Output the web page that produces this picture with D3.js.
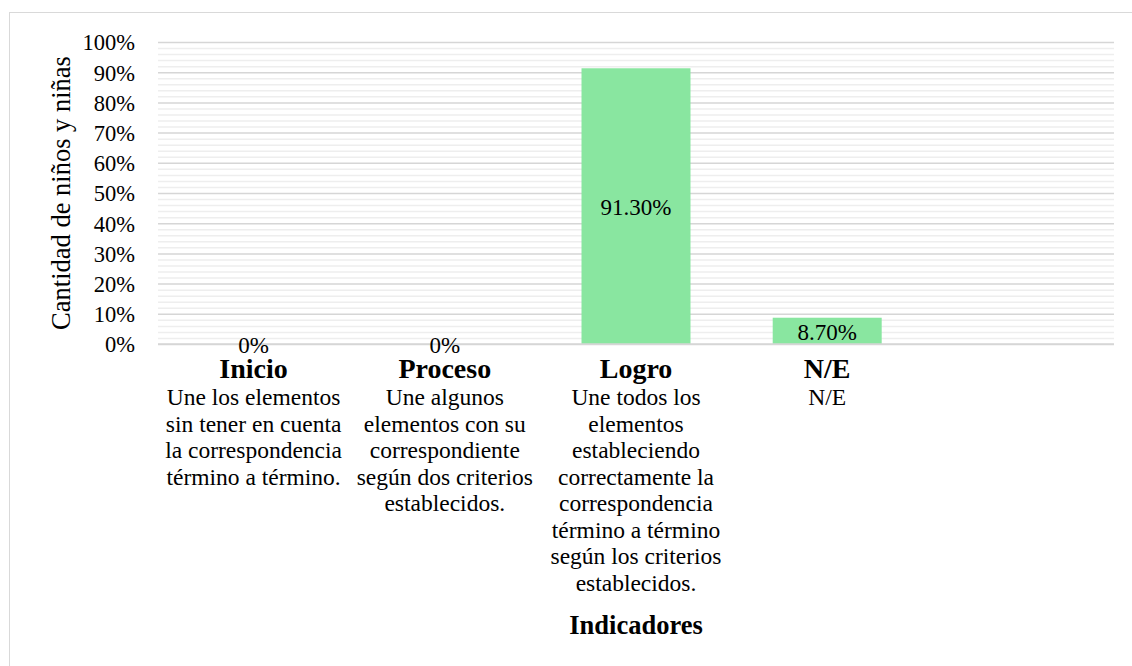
<!DOCTYPE html>
<html>
<head>
<meta charset="utf-8">
<script src="https://cdn.jsdelivr.net/npm/d3@7"></script>
<style>
  html, body { margin: 0; padding: 0; background: #fff; }
  svg { display: block; }
  svg text { font-family: "Liberation Serif", "Times New Roman", serif; }
</style>
</head>
<body>
<svg id="chart" width="1132" height="666"></svg>
<script>
// ---- data ----
const categories = ["Inicio", "Proceso", "Logro", "N/E", ""];
const values = [0, 0, 0.913, 0.087, null];
const valueLabels = ["0%", "0%", "91.30%", "8.70%", ""];
const descriptions = [
  ["Une los elementos", "sin tener en cuenta", "la correspondencia", "término a término."],
  ["Une algunos", "elementos con su", "correspondiente", "según dos criterios", "establecidos."],
  ["Une todos los", "elementos", "estableciendo", "correctamente la", "correspondencia", "término a término", "según los criterios", "establecidos."],
  ["N/E"],
  []
];
const yTicks = [0, 0.1, 0.2, 0.3, 0.4, 0.5, 0.6, 0.7, 0.8, 0.9, 1.0];
const yMinorTicks = [0.02, 0.04, 0.06, 0.08, 0.12, 0.14, 0.16, 0.18, 0.22, 0.24, 0.26, 0.28,
  0.32, 0.34, 0.36, 0.38, 0.42, 0.44, 0.46, 0.48, 0.52, 0.54, 0.56, 0.58, 0.62, 0.64, 0.66, 0.68,
  0.72, 0.74, 0.76, 0.78, 0.82, 0.84, 0.86, 0.88, 0.92, 0.94, 0.96, 0.98];
const yTitle = "Cantidad de niños y niñas";
const xTitle = "Indicadores";

// ---- layout ----
const FONT = "Liberation Serif";
const svg = d3.select("#chart");
const plot = { left: 158, right: 1114, top: 42, bottom: 344 };
const barColor = "#89e6a0";

// chart border
svg.append("rect")
  .attr("x", 9.5).attr("y", 12.5)
  .attr("width", 1140).attr("height", 700)
  .attr("fill", "#fff").attr("stroke", "#d9d9d9").attr("stroke-width", 1);

const x = d3.scaleBand().domain(d3.range(categories.length))
  .range([plot.left, plot.right]).paddingInner(0.43).paddingOuter(0.215);
const y = d3.scaleLinear().domain([0, 1]).range([plot.bottom, plot.top]);
const W = plot.right - plot.left;

// minor gridlines
svg.append("g")
  .attr("transform", `translate(${plot.left},0)`)
  .call(d3.axisLeft(y).tickValues(yMinorTicks).tickSize(-W).tickFormat(""))
  .call(g => g.select(".domain").remove())
  .call(g => g.selectAll("line").attr("stroke", "#eeeeee").attr("stroke-width", 1.5));

// major gridlines
svg.append("g")
  .attr("transform", `translate(${plot.left},0)`)
  .call(d3.axisLeft(y).tickValues(yTicks).tickSize(-W).tickFormat(""))
  .call(g => g.select(".domain").remove())
  .call(g => g.selectAll("line").attr("stroke", "#d6d6d6").attr("stroke-width", 1.5));

// y tick labels
svg.append("g")
  .attr("transform", `translate(135,0)`)
  .call(d3.axisLeft(y).tickValues(yTicks).tickSize(0).tickPadding(0).tickFormat(d3.format(".0%")))
  .attr("font-family", FONT)
  .call(g => g.select(".domain").remove())
  .call(g => g.selectAll("text")
    .attr("font-family", FONT).attr("font-size", 22.5)
    .attr("fill", "#000").attr("dy", "0.35em"));

// bars
const data = categories.map((c, i) => ({ c, i, v: values[i], label: valueLabels[i] }));
svg.append("g").selectAll("rect")
  .data(data.filter(d => d.v != null && d.v > 0))
  .join("rect")
  .attr("x", d => x(d.i))
  .attr("width", x.bandwidth())
  .attr("y", d => y(d.v))
  .attr("height", d => y(0) - y(d.v))
  .attr("fill", barColor);

// x axis baseline
svg.append("line")
  .attr("x1", plot.left).attr("x2", plot.right)
  .attr("y1", y(0)).attr("y2", y(0))
  .attr("stroke", "#d6d6d6").attr("stroke-width", 1.5);

// value labels
svg.append("g").selectAll("text")
  .data(data.filter(d => d.v != null))
  .join("text")
  .attr("x", d => x(d.i) + x.bandwidth() / 2)
  .attr("y", d => (y(d.v) + y(0)) / 2)
  .attr("dy", "0.38em")
  .attr("text-anchor", "middle")
  .attr("font-family", FONT)
  .attr("font-size", 23)
  .attr("fill", "#000")
  .text(d => d.label);

// category labels (bold) via axis
svg.append("g")
  .attr("transform", `translate(0,378)`)
  .call(d3.axisBottom(x).tickSize(0).tickPadding(0).tickFormat(i => categories[i]))
  .attr("font-family", FONT)
  .call(g => g.select(".domain").remove())
  .call(g => g.selectAll("text")
    .attr("font-family", FONT).attr("font-size", 28)
    .attr("font-weight", "bold").attr("fill", "#000").attr("dy", 0).attr("y", 0));

// descriptions
const descG = svg.append("g");
data.forEach(d => {
  const cx = x(d.i) + x.bandwidth() / 2;
  descG.append("g").selectAll("text")
    .data(descriptions[d.i])
    .join("text")
    .attr("x", cx)
    .attr("y", (t, j) => 405 + j * 26.5)
    .attr("text-anchor", "middle")
    .attr("font-family", FONT)
    .attr("font-size", 23.5)
    .attr("fill", "#000")
    .text(t => t);
});

// axis titles
svg.append("text")
  .attr("x", x(2) + x.bandwidth() / 2)
  .attr("y", 634)
  .attr("text-anchor", "middle")
  .attr("font-family", FONT)
  .attr("font-size", 26.5)
  .attr("font-weight", "bold")
  .attr("fill", "#000")
  .text(xTitle);

svg.append("text")
  .attr("transform", `translate(70,${(plot.top + plot.bottom) / 2}) rotate(-90)`)
  .attr("text-anchor", "middle")
  .attr("font-family", FONT)
  .attr("font-size", 26.5)
  .attr("fill", "#000")
  .text(yTitle);
</script>
</body>
</html>
